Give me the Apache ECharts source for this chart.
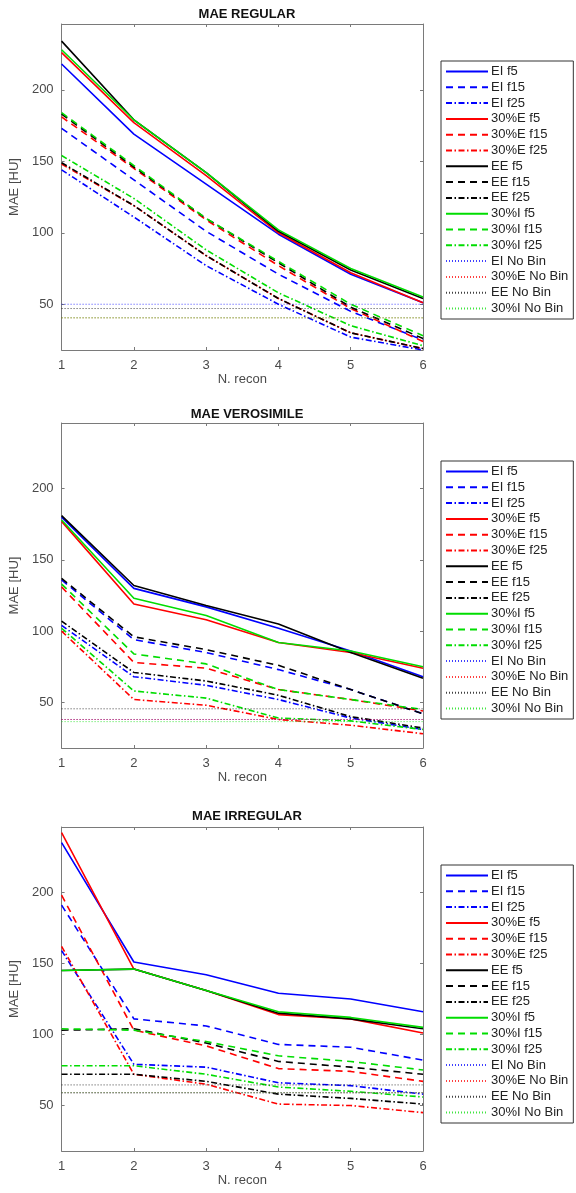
<!DOCTYPE html>
<html>
<head>
<meta charset="utf-8">
<script src="https://cdn.jsdelivr.net/npm/echarts@6/dist/echarts.min.js"></script>
<style>
html,body{margin:0;padding:0;background:#fff;}
#chart{width:576px;height:1193px;}
</style>
</head>
<body>
<div id="chart"></div>
<script>
// ---------- data ----------
const xRecon = [1, 2, 3, 4, 5, 6];
const yTicks = [50, 100, 150, 200];
const plotTitles = ['MAE REGULAR', 'MAE VEROSIMILE', 'MAE IRREGULAR'];
const groupNames = ['EI', '30%E', 'EE', '30%I'];
const filterNames = ['f5', 'f15', 'f25'];

// MAE REGULAR
const reg_EI_f5    = [218, 169, 134, 99, 71, 51];
const reg_EI_f15   = [173, 137, 101, 71, 45, 25];
const reg_EI_f25   = [144, 111, 77, 50, 27, 18];
const reg_30E_f5   = [226, 177, 140, 100, 72, 51];
const reg_30E_f15  = [181, 145, 109, 77, 47, 24];
const reg_30E_f25  = [148, 119, 84, 54, 30, 19];
const reg_EE_f5    = [234, 179, 142, 101, 74, 54];
const reg_EE_f15   = [183, 146, 110, 79, 48, 26];
const reg_EE_f25   = [149, 119, 84, 54, 30, 19];
const reg_30I_f5   = [228, 179, 142, 102, 75, 55];
const reg_30I_f15  = [184, 147, 110, 80, 50, 28];
const reg_30I_f25  = [154, 124, 88, 58, 35, 21];
const reg_noBin    = [50, 40.5, 47, 40.5]; // EI, 30%E, EE, 30%I

// MAE VEROSIMILE
const ver_EI_f5    = [180, 130, 117, 102, 86, 68];
const ver_EI_f15   = [136, 94, 85, 73, 59, 42];
const ver_EI_f25   = [104, 68, 62, 52, 39, 31];
const ver_30E_f5   = [177, 119, 108, 92, 85, 74];
const ver_30E_f15  = [131, 78, 74, 59, 52, 44];
const ver_30E_f25  = [100, 52, 48, 38, 34, 28];
const ver_EE_f5    = [181, 132, 118, 105, 85, 67];
const ver_EE_f15   = [137, 96, 87, 76, 59, 42];
const ver_EE_f25   = [107, 71, 65, 55, 40, 32];
const ver_30I_f5   = [178, 123, 111, 92, 86, 75];
const ver_30I_f15  = [133, 84, 77, 59, 52, 45];
const ver_30I_f25  = [102, 58, 53, 39, 37, 31];
const ver_noBin    = [38, 38, 45.5, 36.5];

// MAE IRREGULAR
const irr_EI_f5    = [235, 151, 142, 129, 125, 116];
const irr_EI_f15   = [191, 111, 106, 93, 91, 82];
const irr_EI_f25   = [159, 79, 77, 66, 64, 58];
const irr_30E_f5   = [242, 146, 131, 114, 111, 101];
const irr_30E_f15  = [198, 103, 92, 76, 74, 67];
const irr_30E_f25  = [162, 72, 65, 51, 50, 45];
const irr_EE_f5    = [145, 146, 131, 115, 111, 104];
const irr_EE_f15   = [103, 104, 94, 81, 77, 72];
const irr_EE_f25   = [72, 72, 67, 58, 55, 51];
const irr_30I_f5   = [145, 146, 131, 116, 112, 105];
const irr_30I_f15  = [104, 103, 95, 85, 81, 75];
const irr_30I_f25  = [78, 78, 72, 63, 60, 56];
const irr_noBin    = [59, 59, 64.5, 59];

const plotData = [
  [[reg_EI_f5, reg_EI_f15, reg_EI_f25], [reg_30E_f5, reg_30E_f15, reg_30E_f25],
   [reg_EE_f5, reg_EE_f15, reg_EE_f25], [reg_30I_f5, reg_30I_f15, reg_30I_f25]],
  [[ver_EI_f5, ver_EI_f15, ver_EI_f25], [ver_30E_f5, ver_30E_f15, ver_30E_f25],
   [ver_EE_f5, ver_EE_f15, ver_EE_f25], [ver_30I_f5, ver_30I_f15, ver_30I_f25]],
  [[irr_EI_f5, irr_EI_f15, irr_EI_f25], [irr_30E_f5, irr_30E_f15, irr_30E_f25],
   [irr_EE_f5, irr_EE_f15, irr_EE_f25], [irr_30I_f5, irr_30I_f15, irr_30I_f25]]
];
const noBinData = [reg_noBin, ver_noBin, irr_noBin];

// ---------- styling ----------
const groupColors = ['#0000ff', '#ff0000', '#000000', '#00dd00'];
const dashTypes = ['solid', [7, 5], [6, 2.5, 1.5, 2.5]];
const FONT = '"Liberation Sans", Arial, Helvetica, sans-serif';
const AXIS_COLOR = '#7a7a7a';
const LABEL_COLOR = '#4a4a4a';

const grids = [
  {left: 61, top: 24, width: 362, height: 326},
  {left: 61, top: 423, width: 362, height: 325},
  {left: 61, top: 827, width: 362, height: 324}
];
const legendTops = [61, 461, 865];
const titleTops = [3, 403, 805];

const legendNames = [];
groupNames.forEach(g => filterNames.forEach(f => legendNames.push(g + ' ' + f)));
groupNames.forEach(g => legendNames.push(g + ' No Bin'));

const xAxes = [], yAxes = [], series = [], legends = [], titles = [];
grids.forEach((g, i) => {
  xAxes.push({
    type: 'value', gridIndex: i, min: 1, max: 6, interval: 1, position: 'bottom',
    name: 'N. recon', nameLocation: 'middle', nameGap: 19,
    nameTextStyle: {fontFamily: FONT, fontSize: 13, color: LABEL_COLOR},
    axisLine: {show: true, lineStyle: {color: AXIS_COLOR, width: 1}},
    axisTick: {show: true, inside: true, length: 3, lineStyle: {color: AXIS_COLOR}},
    axisLabel: {fontFamily: FONT, fontSize: 13, color: LABEL_COLOR, margin: 9},
    splitLine: {show: false}
  });
  xAxes.push({
    type: 'value', gridIndex: i, min: 1, max: 6, interval: 1, position: 'top',
    axisLine: {show: true, lineStyle: {color: AXIS_COLOR, width: 1}},
    axisTick: {show: true, inside: true, length: 3, lineStyle: {color: AXIS_COLOR}},
    axisLabel: {show: false}, splitLine: {show: false}
  });
  yAxes.push({
    type: 'value', gridIndex: i, min: 18, max: 246, position: 'left',
    name: 'MAE [HU]', nameLocation: 'middle', nameGap: 40, nameRotate: 90,
    nameTextStyle: {fontFamily: FONT, fontSize: 13, color: LABEL_COLOR},
    axisLine: {show: true, lineStyle: {color: AXIS_COLOR, width: 1}},
    axisTick: {show: true, inside: true, length: 3, customValues: yTicks, lineStyle: {color: AXIS_COLOR}},
    axisLabel: {fontFamily: FONT, fontSize: 13, color: LABEL_COLOR, margin: 8, customValues: yTicks},
    splitLine: {show: false}
  });
  yAxes.push({
    type: 'value', gridIndex: i, min: 18, max: 246, position: 'right',
    axisLine: {show: true, lineStyle: {color: AXIS_COLOR, width: 1}},
    axisTick: {show: true, inside: true, length: 3, customValues: yTicks, lineStyle: {color: AXIS_COLOR}},
    axisLabel: {show: false, customValues: yTicks}, splitLine: {show: false}
  });

  plotData[i].forEach((grp, gi) => {
    grp.forEach((vals, fi) => {
      series.push({
        name: groupNames[gi] + ' ' + filterNames[fi],
        type: 'line', xAxisIndex: 2 * i, yAxisIndex: 2 * i,
        data: xRecon.map((x, k) => [x, vals[k]]),
        symbol: 'none', silent: true, animation: false,
        color: groupColors[gi],
        lineStyle: {color: groupColors[gi], width: 1.6, type: dashTypes[fi]},
        z: 2 + gi
      });
    });
  });
  noBinData[i].forEach((v, gi) => {
    series.push({
      name: groupNames[gi] + ' No Bin',
      type: 'line', xAxisIndex: 2 * i, yAxisIndex: 2 * i,
      data: xRecon.map(x => [x, v]),
      symbol: 'none', silent: true, animation: false,
      color: groupColors[gi],
      lineStyle: {color: groupColors[gi], width: 1, type: [1, 2], opacity: 0.75},
      z: 6
    });
  });

  legends.push({
    data: legendNames, orient: 'vertical', left: 441, top: legendTops[i],
    itemWidth: 42, itemHeight: 10, itemGap: 2.8, padding: [4, 5, 4, 4],
    borderColor: '#333', borderWidth: 1, backgroundColor: '#fff',
    selectedMode: false,
    itemStyle: {color: 'rgba(0,0,0,0)', borderColor: 'rgba(0,0,0,0)', borderWidth: 0, opacity: 0},
    textStyle: {fontFamily: FONT, fontSize: 13, color: '#222', padding: [0, 0, 0, -2]}
  });
  titles.push({
    text: plotTitles[i], left: g.left + g.width / 2, top: titleTops[i], textAlign: 'center',
    textStyle: {fontFamily: FONT, fontSize: 13, fontWeight: 'bold', color: '#111'}
  });
});

const chart = echarts.init(document.getElementById('chart'), null, {renderer: 'canvas'});
chart.setOption({
  backgroundColor: '#fff',
  animation: false,
  title: titles,
  grid: grids.map(g => Object.assign({containLabel: false}, g)),
  xAxis: xAxes,
  yAxis: yAxes,
  legend: legends,
  series: series
});
</script>
</body>
</html>
